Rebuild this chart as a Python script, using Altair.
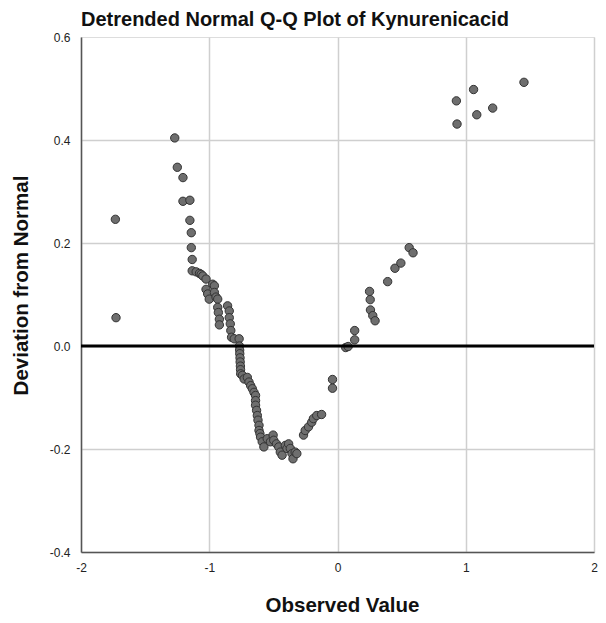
import altair as alt
import pandas as pd

obs = [
    -1.732, -1.727, -1.269, -1.249, -1.205, -1.205, -1.151, -1.151, -1.140, -1.140,
    -1.133, -1.133, -1.102, -1.076, -1.063, -1.050, -1.025, -0.973, -0.960, -1.025,
    -1.012, -0.960, -1.000, -0.947, -0.934, -0.934, -0.929, -0.921, -0.921, -0.857,
    -0.844, -0.844, -0.836, -0.832, -0.826, -0.805, -0.767,
    -0.765, -0.763, -0.762, -0.760, -0.759, -0.757, -0.756, -0.755,
    -0.741, -0.728, -0.703, -0.690, -0.677, -0.664, -0.651, -0.639, -0.639, -0.639,
    -0.631, -0.625, -0.620, -0.612, -0.612, -0.605, -0.600, -0.587, -0.574,
    -0.548, -0.523, -0.502, -0.497, -0.476, -0.458, -0.446, -0.432,
    -0.407, -0.394, -0.381, -0.368, -0.355, -0.347, -0.330, -0.317,
    -0.265, -0.252, -0.226, -0.201, -0.188, -0.162, -0.124,
    -0.039, -0.039, 0.064, 0.083, 0.134, 0.134,
    0.250, 0.255, 0.257, 0.275, 0.293, 0.391, 0.448, 0.494, 0.559, 0.589,
    0.927, 0.932, 1.061, 1.086, 1.210, 1.454,
]
dev = [
    0.246, 0.055, 0.404, 0.347, 0.327, 0.281, 0.283, 0.244, 0.220, 0.191,
    0.168, 0.146, 0.144, 0.141, 0.139, 0.136, 0.130, 0.120, 0.117, 0.110,
    0.101, 0.104, 0.091, 0.095, 0.091, 0.075, 0.065, 0.052, 0.041, 0.078,
    0.068, 0.055, 0.043, 0.030, 0.017, 0.014, 0.014,
    0.000, -0.008, -0.015, -0.023, -0.031, -0.039, -0.046, -0.054,
    -0.057, -0.064, -0.061, -0.070, -0.077, -0.083, -0.090, -0.096, -0.106, -0.115,
    -0.125, -0.135, -0.144, -0.154, -0.164, -0.170, -0.177, -0.186, -0.196,
    -0.180, -0.186, -0.173, -0.183, -0.190, -0.196, -0.206, -0.212,
    -0.193, -0.199, -0.190, -0.199, -0.209, -0.219, -0.206, -0.209,
    -0.173, -0.164, -0.157, -0.148, -0.141, -0.135, -0.133,
    -0.065, -0.082, -0.003, -0.001, 0.012, 0.030,
    0.106, 0.090, 0.070, 0.059, 0.049, 0.125, 0.151, 0.161, 0.191, 0.181,
    0.476, 0.431, 0.498, 0.449, 0.462, 0.512,
]

x_ticks = [-2, -1, 0, 1, 2]
y_ticks = [-0.4, -0.2, 0.0, 0.2, 0.4, 0.6]
ref_level = [0.0]

df = pd.DataFrame({"obs": obs, "dev": dev})
ref = pd.DataFrame({"y": ref_level})

FONT = "Liberation Sans"
MINUS = "\u2212"
W, H = 513, 515

x_enc = alt.X(
    "obs:Q",
    scale=alt.Scale(domain=[-2, 2], nice=False, zero=False),
    axis=alt.Axis(
        values=x_ticks,
        title="Observed Value",
        titleFont=FONT,
        titleFontSize=20.5,
        titleFontWeight="bold",
        titleColor="#111111",
        titleX=261,
        titleY=53,
        titleBaseline="middle",
        titleAlign="center",
        labelFont=FONT,
        labelFontSize=12,
        labelColor="#222222",
        labelPadding=10,
        labelFlush=False,
        labelOverlap=False,
        labelExpr=f"replace(datum.label, '{MINUS}', '-')",
        ticks=False,
        domainColor="#555555",
        domainWidth=1.5,
        gridColor="#cfcfcf",
        gridWidth=1.5,
        format="d",
    ),
)

y_enc = alt.Y(
    "dev:Q",
    scale=alt.Scale(domain=[-0.4, 0.6], nice=False, zero=False),
    axis=alt.Axis(
        values=y_ticks,
        title="Deviation from Normal",
        titleFont=FONT,
        titleFontSize=20.5,
        titleFontWeight="bold",
        titleColor="#111111",
        titleAngle=-90,
        titleX=-60,
        titleY=248,
        titleBaseline="middle",
        titleAlign="center",
        labelFont=FONT,
        labelFontSize=12,
        labelColor="#222222",
        labelPadding=11,
        labelFlush=False,
        labelOverlap=False,
        labelExpr=f"replace(datum.label, '{MINUS}', '-')",
        ticks=False,
        domainColor="#555555",
        domainWidth=1.5,
        gridColor=alt.condition("datum.value > 0.55", alt.value("transparent"), alt.value("#cfcfcf")),
        gridWidth=1.5,
        format=".1f",
    ),
)

points = alt.Chart(df).mark_point(
    shape="circle", filled=True, size=70, fill="#6e6e6e", stroke="#333333",
    strokeWidth=1, opacity=1,
).encode(x=x_enc, y=y_enc)

rule = alt.Chart(ref).mark_rule(color="#000000", strokeWidth=3).encode(
    y=alt.Y("y:Q", scale=alt.Scale(domain=[-0.4, 0.6], nice=False, zero=False))
)

chart = alt.layer(points, rule).properties(
    width=W,
    height=H,
    padding={"left": 73, "top": 29, "right": 4, "bottom": 63},
    autosize=alt.AutoSizeParams(type="none"),
    title=alt.TitleParams(
        "Detrended Normal Q-Q Plot of Kynurenicacid",
        anchor="start",
        frame="group",
        font=FONT,
        fontSize=20,
        fontWeight="bold",
        color="#111111",
        offset=1,
    ),
).configure_view(stroke=None).configure(background="white")

chart.save("out.html", embed_options={"renderer": "svg", "actions": False})
